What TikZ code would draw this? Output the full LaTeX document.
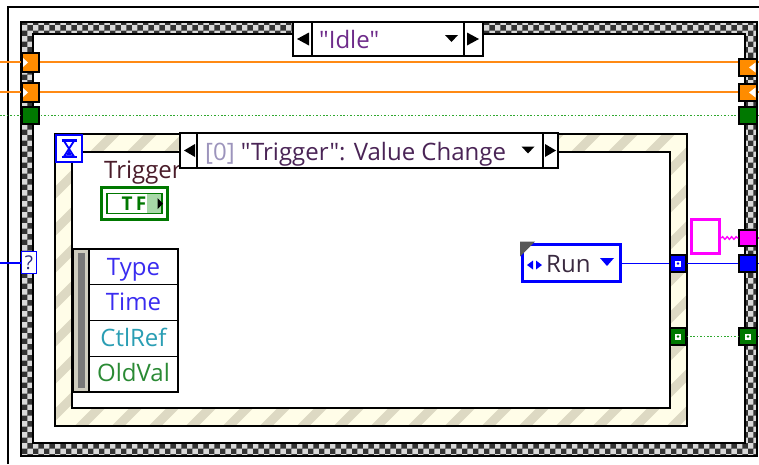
\documentclass[tikz,border=0pt]{standalone}
\usepackage{fontspec}
\setmainfont{Open Sans}[Ligatures=TeXOff]
\usetikzlibrary{patterns,decorations.pathmorphing}
\definecolor{wireorange}{HTML}{FF8A14}
\definecolor{tunorange}{HTML}{FF8C00}
\definecolor{lvgreen}{HTML}{007800}
\definecolor{dotgreen}{HTML}{2FA82F}
\definecolor{lvblue}{HTML}{0000FF}
\definecolor{lvpink}{HTML}{FF00FF}
\definecolor{cream}{HTML}{FFFDE8}
\definecolor{stripe}{HTML}{DDD9C3}
\definecolor{idlecol}{HTML}{6E2B8A}
\definecolor{evcol}{HTML}{4A2456}
\definecolor{idxcol}{HTML}{9C94BC}
\definecolor{trigcol}{HTML}{4A1C2A}
\definecolor{typecol}{HTML}{3A2CF0}
\definecolor{refcol}{HTML}{2A9EB4}
\definecolor{oldcol}{HTML}{2A8A34}
\definecolor{runcol}{HTML}{3A2A40}
\definecolor{barlight}{HTML}{CFCDBF}
\definecolor{bardark}{HTML}{787878}
\definecolor{qcol}{HTML}{2A2A80}
\definecolor{lightgreen}{HTML}{A8D8A8}
\tikzset{
  tun/.style={draw=black, line width=1.2, inner sep=0, minimum width=17, minimum height=17},
  ow/.style={wireorange, line width=1.8},
  gw/.style={dotgreen, line width=1.6, dash pattern=on 1.6pt off 1.8pt},
  bw/.style={lvblue, line width=1.6},
  lab/.style={font=\fontsize{24}{24}\selectfont, inner sep=0, anchor=base west},
  clab/.style={font=\fontsize{24}{24}\selectfont, inner sep=0, anchor=base},
  cell/.style={draw=black, line width=1.2, fill=white, minimum width=89, minimum height=35.75, inner sep=0},
  selbox/.style={draw=black, line width=1.2, fill=white, inner sep=0},
  dot/.style={fill=white, draw=none, minimum size=6, inner sep=0},
}
\begin{document}
\begin{tikzpicture}[x=1pt,y=-1pt]
\useasboundingbox (0,0) rectangle (759,464);
\fill[white] (0,0) rectangle (759,464);
% outer loop edge
\draw[black, line width=1.4] (8,464) -- (8,7) -- (759,7);
% case structure frame
\path[fill=gray!30, even odd rule] (21,22) rectangle (757,456) (33,34) rectangle (745,443);
\path[pattern=checkerboard, pattern color=black!80, even odd rule] (21,22) rectangle (757,456) (33,34) rectangle (745,443);
\draw[line width=1.2] (21,22) rectangle (757,456);
\draw[line width=1.2] (33,34) rectangle (745,443);

% edge coordinates
\coordinate (eL1) at (0,62);
\coordinate (eL2) at (0,92);
\coordinate (eLg) at (0,115.5);
\coordinate (eLb) at (0,263);
\coordinate (eR1) at (759,62);
\coordinate (eR2) at (759,92);
\coordinate (eRg) at (759,115.5);
\coordinate (eRb) at (759,263.5);
\coordinate (eRm) at (759,238);
\coordinate (eRg2) at (759,336.5);

% top wires
\draw[ow] (eL1) -- (eR1);
\draw[ow] (eL2) -- (eR2);
\draw[gw] (eLg) -- (eRg);

% tunnels on case (left)
\node[tun, fill=tunorange, minimum height=19] (tL1) at (30.5,62.5) {};
\node[tun, fill=tunorange, minimum height=19] (tL2) at (30.5,92.5) {};
\node[tun, fill=lvgreen] (tLg) at (30.5,115.5) {};
\fill[white] (23,58) -- (28,62.5) -- (23,67) -- cycle;
\fill[white] (23,88) -- (28,92.5) -- (23,97) -- cycle;
% tunnels on case (right)
\node[tun, fill=tunorange, minimum width=18] (tR1) at (748,67.5) {};
\node[tun, fill=tunorange, minimum width=18] (tR2) at (748,92.5) {};
\node[tun, fill=lvgreen, minimum width=18] (tRg) at (748,115.5) {};
\fill[white] (755.5,62.5) -- (749,67.5) -- (755.5,72.5) -- cycle;
\fill[white] (755.5,87.5) -- (749,92.5) -- (755.5,97.5) -- cycle;

% case selector
\node[selbox, minimum width=190, minimum height=34] (csel) at (388,39) {};
\draw[line width=1.2] (312,22) -- (312,56);
\draw[line width=1.2] (464,22) -- (464,56);
\fill (297,39) -- (309,32.5) -- (309,45.5) -- cycle;
\fill (467,32.5) -- (479,39) -- (467,45.5) -- cycle;
\fill (445,35) -- (458,35) -- (451.5,42) -- cycle;
\node[lab, text=idlecol] (idle) at (319,48) {"Idle"};

% event structure frame
\begin{scope}[even odd rule]
\clip (55,134) rectangle (687,426) (72,152) rectangle (670,408);
\fill[cream] (55,134) rectangle (687,426);
\foreach \i in {-340,-303,...,720} \draw[stripe, line width=9] (\i,440) -- (\i+320,120);
\end{scope}
\draw[line width=1.5] (55,134) rectangle (687,426);
\draw[line width=1.5] (72,152) rectangle (670,408);

% timeout terminal
\node[draw=lvblue, line width=2.5, fill=white, minimum width=26, minimum height=27, inner sep=0] (hg) at (69,148.5) {};
\draw[lvblue, line width=2.2] (61.5,140.5) -- (76.5,140.5) (61.5,157) -- (76.5,157);
\draw[lvblue, line width=1.8, line join=round] (64,141) -- (74,141) -- (64,156.5) -- (74,156.5) -- cycle;
\fill[lvblue] (66,155.5) -- (69,150) -- (72,155.5) -- cycle;

% Trigger label and boolean terminal
\node[lab, text=trigcol] (trig) at (104,178) {Trigger};
\node[draw=lvgreen, line width=2.8, fill=white, minimum width=66, minimum height=32, inner sep=0] (bool) at (134.5,203.5) {};
\fill[lightgreen] (147,193.5) rectangle (162,213.5);
\draw[lvgreen, line width=1.3] (107,193.5) rectangle (162,213.5);
\node[font=\fontsize{19}{19}\selectfont\bfseries, text=lvgreen, inner sep=0] (tf) at (134,203.5) {T\,F};
\fill (157.5,198) -- (163,203.5) -- (157.5,209) -- cycle;

% event selector
\node[selbox, minimum width=378, minimum height=35] (esel) at (369,150.5) {};
\draw[line width=1.2] (197,133) -- (197,168);
\draw[line width=1.2] (543,133) -- (543,168);
\fill (184,150.5) -- (195,144) -- (195,157) -- cycle;
\fill (545,144) -- (556,150.5) -- (545,157) -- cycle;
\fill (521.5,146.5) -- (534.5,146.5) -- (528,153.5) -- cycle;
\node[lab, text=evcol] (evt) at (205,160) {\textcolor{idxcol}{[0]} "Trigger": Value Change};

% event data node
\node[draw=black, line width=1.2, fill=barlight, minimum width=16, minimum height=143, inner sep=0] (bar) at (81,320.5) {};
\fill[bardark] (78,253) rectangle (85,388);
\node[cell] (c1) at (133.5,266.9) {};
\node[cell] (c2) at (133.5,302.6) {};
\node[cell] (c3) at (133.5,338.4) {};
\node[cell] (c4) at (133.5,374.1) {};
\node[clab, text=typecol] at (133.5,275) {Type};
\node[clab, text=typecol] at (133.5,310) {Time};
\node[clab, text=refcol] at (133.5,346) {CtlRef};
\node[clab, text=oldcol] at (133.5,381) {OldVal};

% selector terminal
\node[draw=lvblue, line width=1.4, fill=white, minimum width=15, minimum height=22, inner sep=0, font=\fontsize{19}{19}\selectfont, text=qcol] (qsel) at (29,262.5) {?};
\draw[bw] (eLb) -- (qsel.west |- eLb);

% Run enum constant
\node[draw=lvblue, line width=3, fill=white, minimum width=98, minimum height=37, inner sep=0] (run) at (571.5,263) {};
\fill[gray!70!black] (520,241.5) -- (535,241.5) -- (520,256.5) -- cycle;
\fill[lvblue] (527,265) -- (533,260.5) -- (533,269.5) -- cycle;
\fill[lvblue] (536,260.5) -- (542,265) -- (536,269.5) -- cycle;
\node[lab, text=runcol] (runtxt) at (546,272) {Run};
\fill[lvblue] (600,258) -- (614,258) -- (607,266) -- cycle;

% right side wires
\node[tun, fill=lvblue, minimum width=16] (tEb) at (678,263.5) {};
\node[tun, fill=lvblue, minimum width=18] (tRb) at (748,263.5) {};
\draw[bw] (run.east |- tEb) -- (tEb.west);
\draw[bw] (tEb.east) -- (tRb.west);
\draw[bw] (tRb.east) -- (eRb);
\node[dot] at (tEb) {};
\fill[lvblue] (tEb) circle (1.3);

\node[draw=lvpink, line width=3.5, fill=white, minimum width=28, minimum height=34, inner sep=0] (str) at (705.5,236.5) {};
\node[tun, fill=lvpink, minimum width=18, minimum height=16] (tRm) at (748,238) {};
\draw[lvpink, line width=1.4, decorate, decoration={snake, amplitude=1.3pt, segment length=4.5pt}] (str.east |- tRm) -- (tRm.west);
\draw[lvpink, line width=1.4] (tRm.east) -- (eRm);

\node[tun, fill=lvgreen, minimum width=16] (tEg) at (678,336.5) {};
\node[tun, fill=lvgreen, minimum width=18] (tRg2) at (748,336.5) {};
\draw[gw] (tEg.east) -- (tRg2.west);
\draw[gw] (tRg2.east) -- (eRg2);
\node[dot] at (tEg) {};
\fill[lvgreen] (tEg) circle (1.3);
\node[dot] at (tRg2) {};
\fill[lvgreen] (tRg2) circle (1.3);
\end{tikzpicture}
\end{document}
